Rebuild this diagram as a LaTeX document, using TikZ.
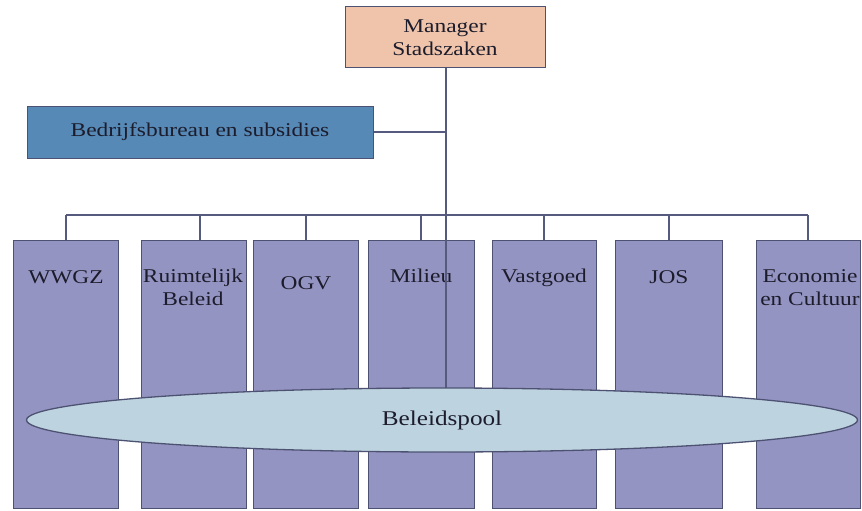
\documentclass[tikz,border=0pt]{standalone}
\usepackage{fontspec}
\setmainfont{Liberation Serif}[FakeStretch=1.2]
\usetikzlibrary{positioning, shapes.geometric}
\definecolor{zalm}{HTML}{EFC4AA}
\definecolor{staalblauw}{HTML}{5689B6}
\definecolor{lila}{HTML}{9494C3}
\definecolor{lichtblauw}{HTML}{BDD4E0}
\definecolor{lijnkleur}{HTML}{555A7E}
\definecolor{randkleur}{HTML}{4E5272}
\definecolor{inkt}{HTML}{1C1C2C}

\begin{document}
\begin{tikzpicture}[x=1pt, y=-1pt,
    lijn/.style = {draw=lijnkleur, line width=1.3pt},
    kader/.style = {draw=randkleur, line width=1pt, inner sep=0pt},
    afdeling/.style = {kader, fill=lila, minimum width=105pt, minimum height=268pt, anchor=north},
    tekst/.style = {font=\fontsize{19.5}{23}\selectfont, text=inkt, align=center, inner sep=0pt}]
    % Kader
    \useasboundingbox (0,0) rectangle (862,511);

    % Direzione
    \node[kader, fill=zalm, minimum width=200pt, minimum height=61pt, tekst] (manager) at (445,37.5) {Manager\\Stadszaken};
    \node[kader, fill=staalblauw, minimum width=346pt, minimum height=52pt, tekst] (bureau) at (200,132) {Bedrijfsbureau en subsidies};

    % Afdelingen
    \node[afdeling] (wwgz) at (66,240) {};
    \node[afdeling] (ruimte) at (194,240) {};
    \node[afdeling] (ogv) at (306,240) {};
    \node[afdeling, minimum width=106pt] (milieu) at (421,240) {};
    \node[afdeling, minimum width=104pt] (vastgoed) at (544,240) {};
    \node[afdeling, minimum width=107pt] (jos) at (669,240) {};
    \node[afdeling, minimum width=104pt] (economie) at (808,240) {};

    % Teksten
    \node[tekst, anchor=north] (t1) at (66,270) {WWGZ};
    \node[tekst, anchor=north] (t2) at (193,269) {Ruimtelijk\\Beleid};
    \node[tekst, anchor=north] (t3) at (306,276) {OGV};
    \node[tekst, anchor=north] (t4) at (421,269) {Milieu};
    \node[tekst, anchor=north] (t5) at (544,269) {Vastgoed};
    \node[tekst, anchor=north] (t6) at (669,270) {JOS};
    \node[tekst, anchor=north] (t7) at (810,269) {Economie\\en Cultuur};

    % Verbindingen
    \coordinate (bus) at (446,215);
    \coordinate (voet) at (446,420);
    \draw[lijn] (wwgz.north |- bus) -- (economie.north |- bus);
    \foreach \a in {wwgz, ogv, milieu, vastgoed, jos, economie}
        \draw[lijn] (\a.north |- bus) -- (\a.north);
    \draw[lijn] ([xshift=6pt]ruimte.north |- bus) -- ([xshift=6pt]ruimte.north);
    \draw[lijn] (bus |- manager.south) -- (voet);
    \draw[lijn] (bureau.east) -- (bureau.east -| bus);

    % Beleidspool
    \node[kader, draw=randkleur, line width=1.3pt, fill=lichtblauw, ellipse, minimum width=831pt, minimum height=64pt,
        text=inkt, font=\fontsize{21}{24}\selectfont] (pool) at (442,420) {Beleidspool};
\end{tikzpicture}
\end{document}
